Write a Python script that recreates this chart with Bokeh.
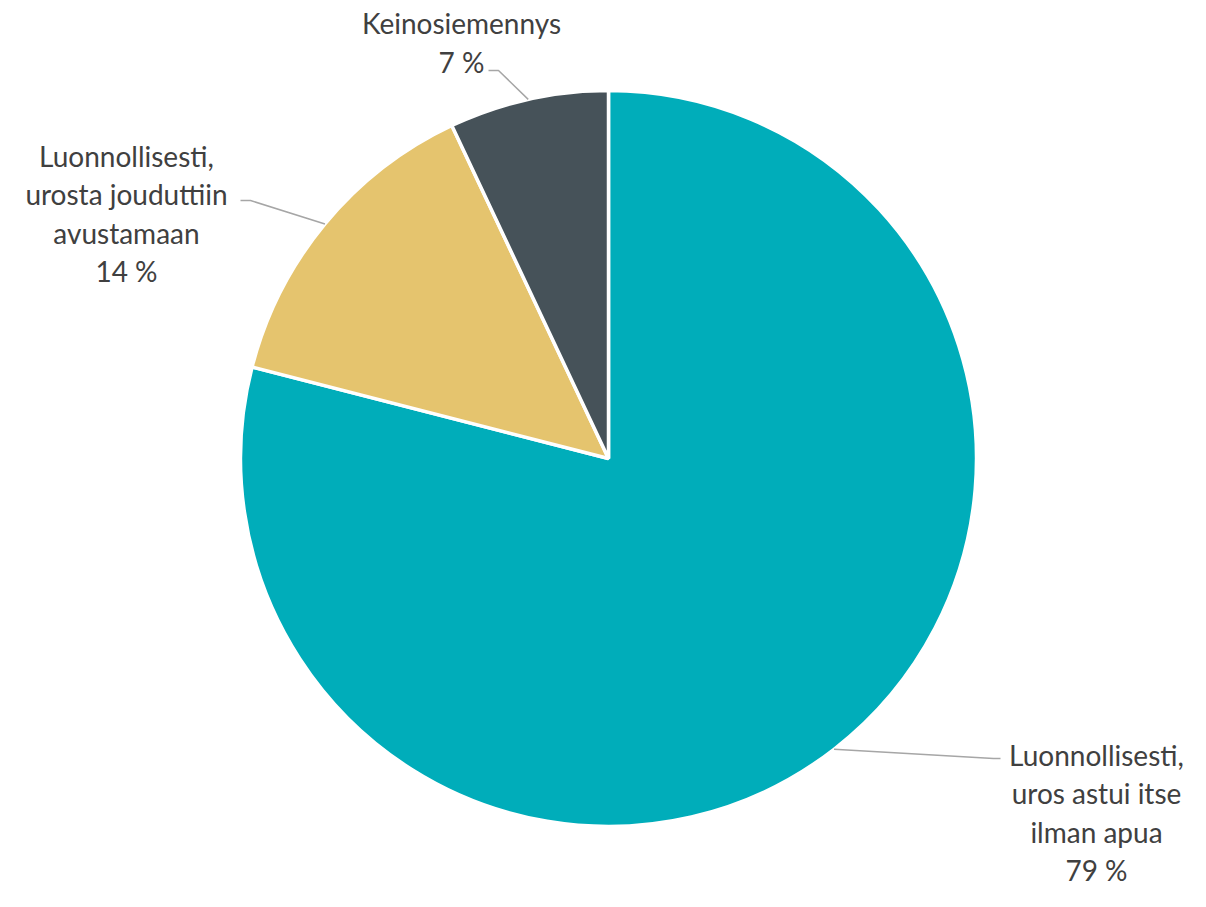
import math
from bokeh.plotting import figure
from bokeh.models import Range1d
from bokeh.core.properties import value
from bokeh.embed import file_html
from bokeh.resources import INLINE

categories = ["Luonnollisesti,\nuros astui itse\nilman apua",
              "Luonnollisesti,\nurosta jouduttiin\navustamaan",
              "Keinosiemennys"]
values = [79, 14, 7]
colors = ["#00ADBA", "#E5C46E", "#465259"]

W, H = 1190, 891
p = figure(width=W, height=H, output_backend="svg", toolbar_location=None,
           x_range=Range1d(0, W), y_range=Range1d(0, H),
           min_border=0)
p.axis.visible = False
p.grid.visible = False
p.outline_line_color = None

cx, cy, r = 608, H - 458, 368

total = sum(values)
cum = 0.0
starts, ends, mids = [], [], []
for v in values:
    a0 = 90 - cum / total * 360
    cum += v
    a1 = 90 - cum / total * 360
    starts.append(math.radians(a0))
    ends.append(math.radians(a1))
    mids.append(math.radians((a0 + a1) / 2))

p.wedge(x=cx, y=cy, radius=r, start_angle=starts, end_angle=ends,
        direction="clock", fill_color=colors, line_color="white", line_width=3.5)

# label layout (screen pixel coords from top-left): text block center, leader elbow
label_pos = [(1096, 812), (126, 213), (461, 42)]
elbows = [((993, 758), (1000, 758)), ((250, 200), (240, 200)), ((498, 70), (488, 70))]

for i, (cat, v) in enumerate(zip(categories, values)):
    sx = cx + r * math.cos(mids[i])
    sy = cy + r * math.sin(mids[i])
    (e1x, e1y), (e2x, e2y) = elbows[i]
    p.line([sx, e1x, e2x], [sy, H - e1y, H - e2y], line_color="#A6A6A6", line_width=1.5)
    lx, ly = label_pos[i]
    p.text(x=[lx], y=[H - ly], text=[f"{cat}\n{v} %"],
           text_font=value("Lato"), text_font_size="28px", text_color="#404040",
           text_align="center", text_baseline="middle", text_line_height=1.12)

open("out.html", "w").write(file_html(p, INLINE))
